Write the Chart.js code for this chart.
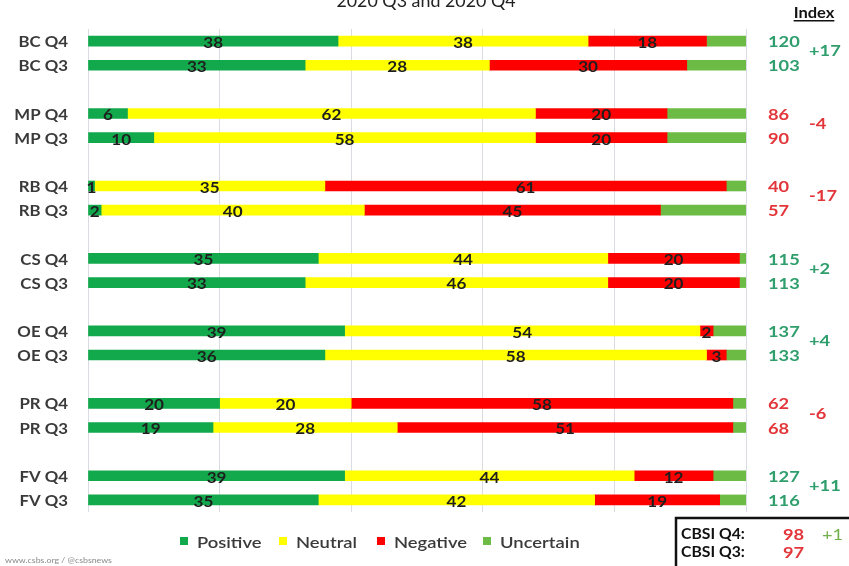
<!DOCTYPE html>
<html>
<head>
<meta charset="utf-8">
<script src="https://cdn.jsdelivr.net/npm/chart.js@4/dist/chart.umd.min.js"></script>
<style>
  html, body { margin: 0; padding: 0; background: #fff; }
  #wrap { width: 849px; height: 566px; position: relative; }
</style>
</head>
<body>
<div id="wrap"><canvas id="chart" width="849" height="566"></canvas></div>
<script>
// rows, two per component (Q4 on top, Q3 below)
const rows = ["BC Q4", "BC Q3", "MP Q4", "MP Q3", "RB Q4", "RB Q3", "CS Q4", "CS Q3",
  "OE Q4", "OE Q3", "PR Q4", "PR Q3", "FV Q4", "FV Q3"];
const positive = [38, 33, 6, 10, 1, 2, 35, 33, 39, 36, 20, 19, 39, 35];
const neutral = [38, 28, 62, 58, 35, 40, 44, 46, 54, 58, 20, 28, 44, 42];
const negative = [18, 30, 20, 20, 61, 45, 20, 20, 2, 3, 58, 51, 12, 19];
const uncertain = [6, 9, 12, 12, 3, 13, 1, 1, 5, 3, 2, 2, 5, 4];

// index per component
const indexQ4 = [120, 86, 40, 115, 137, 62, 127];
const indexQ3 = [103, 90, 57, 113, 133, 68, 116];
const indexChange = ["+17", "-4", "-17", "+2", "+4", "-6", "+11"];

const cbsiQ4 = 98;
const cbsiQ3 = 97;
const cbsiChange = "+1";

const xTicks = [0, 20, 40, 60, 80, 100];

const GREEN = "#12a94c";
const YELLOW = "#ffff00";
const RED = "#ff0000";
const LIGHT_GREEN = "#6cbb45";
const IDX_GREEN = "#2f9e6c";
const IDX_RED = "#e2363a";
const SX = 1.14; // the source picture is a bit stretched sideways

// put an empty slot between each pair of rows
function withGaps(arr, gap) {
  const out = [];
  arr.forEach((v, i) => {
    out.push(v);
    if (i % 2 == 1 && i < arr.length - 1) out.push(gap);
  });
  return out;
}

const labels = withGaps(rows, "");
const slotOf = (row) => row + Math.floor(row / 2);

function text(ctx, str, x, y, sx) {
  ctx.save();
  ctx.translate(x, y);
  ctx.scale(sx || SX, 1);
  ctx.fillText(str, 0, 0);
  ctx.restore();
}

const overlay = {
  id: "overlay",
  afterDatasetsDraw(chart) {
    const ctx = chart.ctx;
    const ys = chart.scales.y;
    ctx.save();

    // row labels
    ctx.font = "bold 16px Lato";
    ctx.fillStyle = "#3a3a3a";
    ctx.textAlign = "right";
    ctx.textBaseline = "middle";
    rows.forEach((r, i) => text(ctx, r, 68, ys.getPixelForValue(slotOf(i)) + 1, 1.05));

    // segment values (not for uncertain)
    ctx.font = "bold 15px Lato";
    ctx.fillStyle = "#1e1e1e";
    ctx.textAlign = "center";
    [0, 1, 2].forEach((di) => {
      const meta = chart.getDatasetMeta(di);
      meta.data.forEach((bar, i) => {
        const v = chart.data.datasets[di].data[i];
        if (v == null) return;
        text(ctx, v, (bar.x + bar.base) / 2, bar.y + 2);
      });
    });

    // index columns
    ctx.font = "bold 16px Lato";
    ctx.textAlign = "left";
    indexQ4.forEach((v, g) => {
      const y4 = ys.getPixelForValue(slotOf(g * 2));
      const y3 = ys.getPixelForValue(slotOf(g * 2 + 1));
      ctx.fillStyle = v >= 100 ? IDX_GREEN : IDX_RED;
      text(ctx, v, 768, y4 + 1);
      ctx.fillStyle = indexQ3[g] >= 100 ? IDX_GREEN : IDX_RED;
      text(ctx, indexQ3[g], 768, y3 + 1);
      ctx.fillStyle = indexChange[g].startsWith("-") ? IDX_RED : IDX_GREEN;
      text(ctx, indexChange[g], 809, (y4 + y3) / 2 - 2);
    });

    ctx.restore();
  },
  afterDraw(chart) {
    const ctx = chart.ctx;
    ctx.save();

    // title (cut off at the top)
    ctx.font = "17px Lato";
    ctx.fillStyle = "#222";
    ctx.textAlign = "center";
    ctx.textBaseline = "alphabetic";
    text(ctx, "2020 Q3 and 2020 Q4", 426, 7, 1.05);

    // Index header
    ctx.font = "bold 15px Lato";
    ctx.fillStyle = "#111";
    text(ctx, "Index", 814, 18, 1.1);
    const w = ctx.measureText("Index").width * 1.1;
    ctx.fillRect(814 - w / 2, 20, w, 1.5);

    // legend
    const items = [["Positive", GREEN, 180], ["Neutral", YELLOW, 279],
      ["Negative", RED, 377], ["Uncertain", LIGHT_GREEN, 483]];
    ctx.font = "600 16px Lato";
    ctx.textAlign = "left";
    ctx.textBaseline = "middle";
    items.forEach(([name, col, x]) => {
      ctx.fillStyle = col;
      ctx.fillRect(x, 537, 8, 8);
      ctx.fillStyle = "#3a3a3a";
      text(ctx, name, x + 17, 543, 1.15);
    });

    // source
    ctx.font = "8px Lato";
    ctx.fillStyle = "#8a8a8a";
    text(ctx, "www.csbs.org / @csbsnews", 5, 560, 1.1);

    // CBSI box
    ctx.strokeStyle = "#111";
    ctx.lineWidth = 2.5;
    ctx.strokeRect(676, 518, 180, 52);
    ctx.font = "bold 15px Lato";
    ctx.fillStyle = "#111";
    ctx.textBaseline = "alphabetic";
    text(ctx, "CBSI Q4:", 681, 539, 1.05);
    text(ctx, "CBSI Q3:", 681, 557, 1.05);
    ctx.font = "bold 16px Lato";
    ctx.fillStyle = IDX_RED;
    text(ctx, cbsiQ4, 783, 540);
    text(ctx, cbsiQ3, 783, 558);
    ctx.font = "16px Lato";
    ctx.fillStyle = "#72b04a";
    text(ctx, cbsiChange, 822, 540);

    ctx.restore();
  }
};

new Chart(document.getElementById("chart"), {
  type: "bar",
  data: {
    labels: labels,
    datasets: [
      { label: "Positive", data: withGaps(positive, null), backgroundColor: GREEN },
      { label: "Neutral", data: withGaps(neutral, null), backgroundColor: YELLOW },
      { label: "Negative", data: withGaps(negative, null), backgroundColor: RED },
      { label: "Uncertain", data: withGaps(uncertain, null), backgroundColor: LIGHT_GREEN },
    ],
  },
  options: {
    indexAxis: "y",
    responsive: false,
    animation: false,
    barThickness: 10,
    layout: { padding: { top: 29, bottom: 54, right: 103, left: 0 } },
    plugins: { legend: { display: false }, tooltip: { enabled: false } },
    scales: {
      x: {
        stacked: true,
        min: 0,
        max: 100,
        afterBuildTicks: (scale) => { scale.ticks = xTicks.map((v) => ({ value: v })); },
        ticks: { display: false },
        grid: { color: "#d9dde3", drawTicks: false },
        border: { display: false },
        afterFit: (scale) => { scale.height = 0; },
      },
      y: {
        stacked: true,
        grid: { display: false, drawTicks: false },
        border: { display: false },
        ticks: { display: false },
        afterFit: (scale) => { scale.width = 88; },
      },
    },
  },
  plugins: [overlay],
});
</script>
</body>
</html>
